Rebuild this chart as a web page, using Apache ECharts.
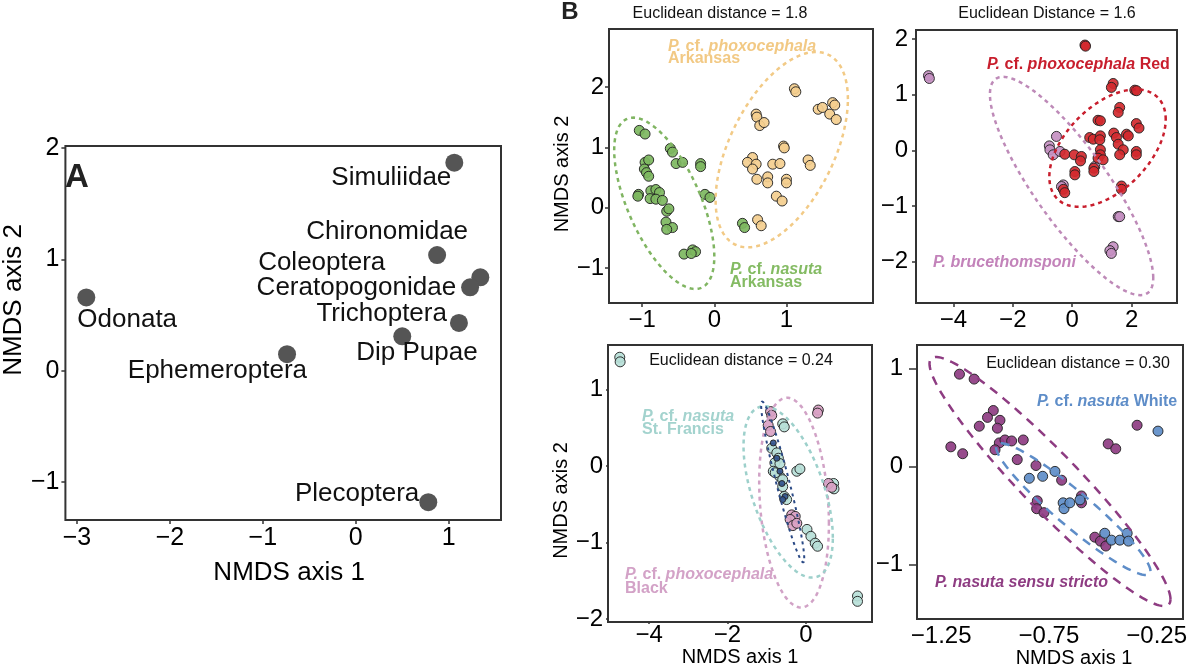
<!DOCTYPE html>
<html>
<head>
<meta charset="utf-8">
<script src="https://cdn.jsdelivr.net/npm/echarts@6/dist/echarts.min.js"></script>
<style>
  html, body { margin: 0; padding: 0; background: #fff; }
  #chart { width: 1200px; height: 672px; }
</style>
</head>
<body>
<div id="chart"></div>
<script>
// ---- Panel A: taxa scores ----
const taxa = ['Simuliidae', 'Chironomidae', 'Coleoptera', 'Ceratopogonidae', 'Trichoptera', 'Dip Pupae', 'Ephemeroptera', 'Odonata', 'Plecoptera'];
const taxaX = [1.06, 0.875, 1.34, 1.23, 1.11, 0.50, -0.74, -2.90, 0.78];
const taxaY = [1.87, 1.04, 0.84, 0.75, 0.43, 0.31, 0.15, 0.66, -1.18];

// ---- Panel B1: Arkansas ----
const nasutaArkansas = [[-1.04,1.28],[-0.96,1.22],[-0.61,0.98],[-0.58,0.92],[-0.53,0.73],[-0.44,0.75],[-0.19,0.73],[-0.19,0.68],[-0.96,0.75],[-0.91,0.79],[-0.97,0.64],[-0.94,0.58],[-0.91,0.52],[-1.05,0.22],[-1.06,0.19],[-0.88,0.28],[-0.81,0.30],[-0.76,0.25],[-0.89,0.15],[-0.81,0.14],[-0.72,0.12],[-0.66,-0.06],[-0.63,-0.02],[-0.67,-0.24],[-0.58,-0.33],[-0.66,-0.36],[-0.13,0.22],[-0.06,0.17],[-0.42,-0.77],[-0.30,-0.70],[-0.26,-0.73],[-0.32,-0.76],[0.39,-0.26],[0.42,-0.33]];
const phoxArkansas = [[1.11,1.97],[1.13,1.92],[0.58,1.55],[0.59,1.50],[0.63,1.36],[0.69,1.41],[1.44,1.63],[1.50,1.66],[1.64,1.74],[1.67,1.70],[1.60,1.55],[1.69,1.46],[0.96,1.02],[0.97,0.99],[0.53,0.83],[0.46,0.75],[0.58,0.72],[0.53,0.64],[0.81,0.72],[0.91,0.73],[1.30,0.79],[1.33,0.70],[0.74,0.51],[0.74,0.41],[0.59,0.47],[1.00,0.47],[1.00,0.41],[0.86,0.19],[0.94,0.11],[0.60,-0.20],[0.65,-0.30]];

// ---- Panel B2: Red vs brucethomsponi ----
const phoxRed = [[0.43,1.89],[0.45,1.87],[1.38,1.20],[1.32,1.13],[2.11,1.08],[2.17,1.07],[1.60,0.77],[1.55,0.68],[0.87,0.54],[0.95,0.53],[2.16,0.48],[2.25,0.40],[0.59,0.23],[0.71,0.20],[0.95,0.26],[0.93,0.19],[1.40,0.31],[1.49,0.23],[1.83,0.29],[1.89,0.26],[1.55,0.11],[0.95,0.01],[0.95,-0.08],[0.87,-0.14],[1.72,0.01],[1.60,-0.08],[2.16,-0.02],[2.16,-0.08],[-0.25,-0.07],[0.07,-0.08],[0.31,-0.11],[0.28,-0.19],[0.09,-0.38],[0.09,-0.44],[0.73,-0.32],[0.73,-0.38],[1.66,-0.64],[1.66,-0.70],[-0.30,-0.70],[-0.25,-0.76],[1.04,-0.17]];
const brucethomsponi = [[-4.84,1.34],[-4.81,1.29],[-0.53,0.25],[-0.77,0.08],[-0.75,0.01],[-0.64,-0.08],[-0.41,-0.02],[-0.30,-0.62],[-0.36,-0.65],[0.76,-0.29],[1.55,-1.19],[1.60,-1.19],[1.38,-1.73],[1.27,-1.80],[1.32,-1.85]];

// ---- Panel B3: St. Francis vs Black ----
const nasutaStFrancis = [[-4.75,1.42],[-4.74,1.36],[-0.59,0.55],[-0.55,0.51],[-0.87,0.23],[-0.74,0.17],[-0.70,0.10],[-0.79,0.04],[-0.83,-0.07],[-0.66,-0.14],[-0.59,-0.27],[-0.55,-0.40],[-0.49,-0.44],[-0.23,-0.07],[-0.15,-0.04],[0.03,-0.83],[0.13,-0.92],[0.24,-1.01],[0.30,-1.05],[0.71,-0.23],[0.72,-0.30],[1.32,-1.70],[1.32,-1.77],[-0.66,0.03],[-0.78,-0.09],[-0.59,-0.18]];
const phoxBlack = [[-0.90,0.71],[-0.87,0.66],[-0.96,0.53],[-0.90,0.45],[0.32,0.73],[0.30,0.69],[0.58,-0.23],[0.66,-0.28],[-0.36,-0.64],[-0.27,-0.66],[-0.40,-0.70],[-0.33,-0.78],[-0.23,-0.75]];
const navyGroup = [[-0.83,0.30],[-0.74,0.10],[-0.66,-0.07],[-0.61,-0.23],[-0.53,-0.40],[-0.59,-0.44]];

// ---- Panel B4: White vs sensu stricto ----
const sensuStricto = [[-1.165,0.94],[-1.097,0.89],[-1.008,0.57],[-1.035,0.50],[-1.073,0.41],[-0.977,0.47],[-0.989,0.39],[-0.980,0.24],[-0.954,0.27],[-0.923,0.26],[-0.869,0.27],[-1.0,0.17],[-1.205,0.20],[-1.150,0.13],[-0.897,0.07],[-0.810,0.01],[-0.691,-0.14],[-0.804,-0.35],[-0.807,-0.43],[-0.773,-0.47],[-0.599,-0.30],[-0.599,-0.37],[-0.537,-0.72],[-0.511,-0.76],[-0.486,-0.81],[-0.475,0.23],[-0.440,0.18],[-0.341,0.42]];
const nasutaWhite = [[-0.841,-0.12],[-0.779,-0.10],[-0.722,-0.05],[-0.684,-0.37],[-0.680,-0.43],[-0.653,-0.37],[-0.606,-0.34],[-0.491,-0.68],[-0.460,-0.75],[-0.421,-0.75],[-0.387,-0.68],[-0.381,-0.76],[-0.244,0.36]];

// ellipses: [centre x, centre y, x half-extent, y half-extent, correlation]
const ellPhoxArkansas = [0.935, 0.961, 0.917, 1.619, 0.517];
const ellNasutaArkansas = [-0.694, 0.072, 0.694, 1.42, -0.62];
const ellPhoxRed = [1.19, 0.04, 1.96, 1.054, 0.49];
const ellBruce = [-0.02, -0.64, 2.75, 1.96, -0.84];
const ellBlack = [-0.30, -0.48, 0.89, 1.37, -0.2];
const ellStFrancis = [-0.45, -0.34, 1.14, 1.12, -0.535];
const ellNavy = [-0.59, -0.21, 0.55, 1.05, -0.95];
const ellSensu = [-0.745, -0.153, 0.559, 1.268, -0.945];
const ellWhite = [-0.637, -0.434, 0.358, 0.671, -0.94];

// axis ticks
const ticksAx = [-3, -2, -1, 0, 1], ticksAy = [-1, 0, 1, 2];
const ticksB1x = [-1, 0, 1], ticksB1y = [-1, 0, 1, 2];
const ticksB2x = [-4, -2, 0, 2], ticksB2y = [-2, -1, 0, 1, 2];
const ticksB3x = [-4, -2, 0], ticksB3y = [-2, -1, 0, 1];
const ticksB4x = [-1.25, -0.75, -0.25], ticksB4y = [-1, 0, 1];

const FONT = "'Liberation Sans', Arial, Helvetica, sans-serif";
const minus = v => String(v).replace('-', '\u2212');

// label placement for panel A (style only)
const taxaLabel = {
  'Simuliidae': ['right', [-3, 15]],
  'Chironomidae': ['center', [-50, -23]],
  'Coleoptera': ['right', [-95, -15]],
  'Ceratopogonidae': ['right', [-14, 0]],
  'Trichoptera': ['right', [-12, -9]],
  'Dip Pupae': ['left', [-46, 16]],
  'Ephemeroptera': ['right', [20, 17]],
  'Odonata': ['left', [-9, 22]],
  'Plecoptera': ['right', [-9, -8]],
};

function axis(g, range, ticks, o) {
  return {
    type: 'value', gridIndex: g, min: range[0], max: range[1],
    axisLine: { show: false, onZero: false },
    splitLine: { show: false },
    axisTick: { show: o.tick > 0, length: o.tick || 0, lineStyle: { color: '#333', width: 1.5 }, customValues: ticks },
    axisLabel: { customValues: ticks, formatter: minus, fontSize: o.fs, color: '#000', margin: o.margin, fontFamily: FONT },
    name: o.name || '', nameLocation: 'middle', nameGap: o.gap || 0,
    nameTextStyle: { fontSize: o.nfs, color: '#000', fontFamily: FONT, padding: o.pad || 0 },
  };
}

function ellipse(g, par, color, dash, width) {
  return {
    type: 'custom', xAxisIndex: g, yAxisIndex: g, silent: true, z: 3,
    data: [par],
    encode: { x: 0, y: 1 },
    renderItem(params, api) {
      const cx = api.value(0), cy = api.value(1), rx = api.value(2), ry = api.value(3), rho = api.value(4);
      const s = Math.sqrt(1 - rho * rho);
      const pts = [];
      for (let i = 0; i <= 144; i++) {
        const t = i / 144 * 2 * Math.PI;
        pts.push(api.coord([cx + rx * Math.cos(t), cy + ry * (rho * Math.cos(t) + s * Math.sin(t))]));
      }
      return { type: 'polyline', shape: { points: pts }, style: { fill: null, stroke: color, lineWidth: width, lineDash: dash } };
    },
  };
}

function points(g, data, fill, size) {
  return {
    type: 'scatter', xAxisIndex: g, yAxisIndex: g, data: data, symbolSize: size || 10, z: 2,
    itemStyle: { color: fill, borderColor: '#222', borderWidth: 1, opacity: 0.92 },
  };
}

function txt(x, y, text, opt) {
  return {
    type: 'text', x: x, y: y, silent: true,
    style: Object.assign({
      text: text, fontFamily: FONT, fontSize: 16, fill: '#111',
      align: 'left', verticalAlign: 'middle',
    }, opt),
  };
}
function group(x, y, text, color) {
  const st = { fontFamily: FONT, fontSize: 16, fontWeight: 'bold', fontStyle: 'italic', fill: color };
  return txt(x, y, text, { fontWeight: 'bold', fill: color, rich: { i: st } });
}

const SHORT = [4, 4], LONG = [9, 7];

const chart = echarts.init(document.getElementById('chart'));
chart.setOption({
  animation: false,
  backgroundColor: '#fff',
  grid: [
    { left: 52, top: 146, width: 449, height: 374 },
    { left: 609, top: 29, width: 264, height: 274 },
    { left: 916, top: 30, width: 261, height: 273 },
    { left: 608, top: 345, width: 264, height: 277 },
    { left: 917, top: 345, width: 266, height: 274 },
  ].map(g => Object.assign(g, { show: true, borderColor: '#333', borderWidth: 2 })),
  xAxis: [
    axis(0, [-3.125, 1.5625], ticksAx, { tick: 4, fs: 25, margin: 6, name: 'NMDS axis 1', nfs: 26, gap: 40, pad: [0, 0, 0, 12] }),
    axis(1, [-1.46, 2.20], ticksB1x, { tick: 4, fs: 24, margin: 5 }),
    axis(2, [-5.26, 3.53], ticksB2x, { tick: 4, fs: 24, margin: 5 }),
    axis(3, [-5.05, 1.69], ticksB3x, { tick: 2, fs: 24, margin: 1, name: 'NMDS axis 1', nfs: 20, gap: 19 }),
    axis(4, [-1.362, -0.128], ticksB4x, { tick: 0, fs: 24, margin: 5, name: 'NMDS axis 1', nfs: 20, gap: 26, pad: [0, 0, 0, 48] }),
  ],
  yAxis: [
    axis(0, [-1.34, 2.02], ticksAy, { tick: 4, fs: 25, margin: 6, name: 'NMDS axis 2', nfs: 26, gap: 28, pad: [0, 0, 0, 66] }),
    axis(1, [-1.58, 2.96], ticksB1y, { tick: 4, fs: 24, margin: 5, name: 'NMDS axis 2', nfs: 20, gap: 30, pad: [0, 16, 0, 0] }),
    axis(2, [-2.74, 2.16], ticksB2y, { tick: 4, fs: 24, margin: 8 }),
    axis(3, [-2.04, 1.58], ticksB3y, { tick: 2, fs: 24, margin: 5, name: 'NMDS axis 2', nfs: 20, gap: 29, pad: [0, 34, 0, 0] }),
    axis(4, [-1.553, 1.237], ticksB4y, { tick: 8, fs: 24, margin: 14 }),
  ],
  series: [
    {
      type: 'scatter', xAxisIndex: 0, yAxisIndex: 0, symbolSize: 18,
      itemStyle: { color: '#555', opacity: 1 },
      data: taxa.map((t, i) => ({
        name: t, value: [taxaX[i], taxaY[i]],
        label: {
          show: true, position: 'inside', formatter: '{b}', align: taxaLabel[t][0], verticalAlign: 'middle',
          offset: taxaLabel[t][1], fontSize: 26, color: '#111', opacity: 1, textBorderWidth: 0, fontFamily: FONT,
        },
      })),
    },
    points(1, nasutaArkansas, '#7DB760'),
    points(1, phoxArkansas, '#F4CE8E'),
    ellipse(1, ellPhoxArkansas, '#F2CA86', SHORT, 2.5),
    ellipse(1, ellNasutaArkansas, '#80B562', SHORT, 2.5),
    points(2, brucethomsponi, '#C690C2'),
    points(2, phoxRed, '#D3292E'),
    ellipse(2, ellPhoxRed, '#C81E2D', SHORT, 2.5),
    ellipse(2, ellBruce, '#BE8AB8', SHORT, 2.5),
    points(3, nasutaStFrancis, '#B7DFD8'),
    points(3, phoxBlack, '#D9A2C4'),
    points(3, navyGroup, '#33558E', 6),
    ellipse(3, ellBlack, '#D1A2C6', SHORT, 2.5),
    ellipse(3, ellStFrancis, '#9DD0CB', SHORT, 2.5),
    ellipse(3, ellNavy, '#2B4A86', [3, 4], 2),
    points(4, sensuStricto, '#8E3C82'),
    points(4, nasutaWhite, '#5E8DC8'),
    ellipse(4, ellSensu, '#8E3C82', LONG, 2.5),
    ellipse(4, ellWhite, '#5E8DC8', LONG, 2.5),
  ],
  graphic: [
    txt(77, 178, 'A', { fontSize: 33, fontWeight: 'bold', fill: '#222', align: 'center' }),
    txt(570, 12, 'B', { fontSize: 24, fontWeight: 'bold', fill: '#222', align: 'center' }),
    txt(720, 14, 'Euclidean distance = 1.8', { align: 'center' }),
    txt(1047, 14, 'Euclidean Distance = 1.6', { align: 'center' }),
    txt(741, 361, 'Euclidean distance = 0.24', { align: 'center' }),
    txt(1078, 364, 'Euclidean distance = 0.30', { align: 'center' }),
    group(668, 47, '{i|P.} cf. {i|phoxocephala}', '#F2C984'),
    group(668, 59, 'Arkansas', '#F2C984'),
    group(730, 270, '{i|P.} cf. {i|nasuta}', '#84BB63'),
    group(730, 283, 'Arkansas', '#84BB63'),
    group(987, 65, '{i|P.} cf. {i|phoxocephala} Red', '#C81E2D'),
    group(933, 263, '{i|P. brucethomsponi}', '#C383BA'),
    group(642, 417, '{i|P.} cf. {i|nasuta}', '#A3D3CE'),
    group(642, 430, 'St. Francis', '#A3D3CE'),
    group(625, 575, '{i|P.} cf. {i|phoxocephala}', '#D3A2C7'),
    group(625, 589, 'Black', '#D3A2C7'),
    group(1037, 402, '{i|P.} cf. {i|nasuta} White', '#5E8DC8'),
    group(935, 583, '{i|P. nasuta sensu stricto}', '#8E3C82'),
  ],
});
</script>
</body>
</html>
